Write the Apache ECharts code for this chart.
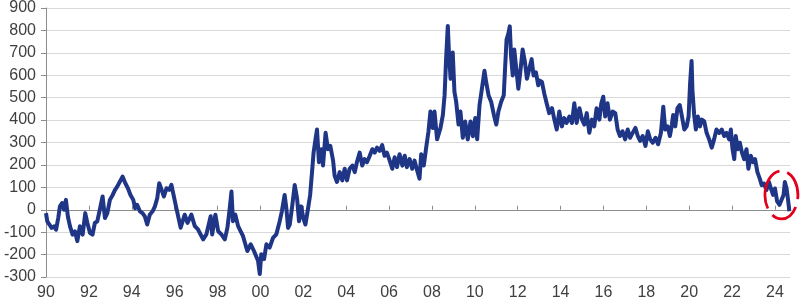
<!DOCTYPE html>
<html>
<head>
<meta charset="utf-8">
<script src="https://cdn.jsdelivr.net/npm/echarts@6/dist/echarts.min.js"></script>
<style>
html,body{margin:0;padding:0;background:#fff;}
#c{width:800px;height:301px;}
</style>
</head>
<body>
<div id="c"></div>
<script>
// Decimal years and spread values
const years = [
1990.0,1990.06,1990.16,1990.26,1990.37,1990.47,1990.57,1990.65,1990.75,1990.84,1990.93,
1991.02,1991.12,1991.24,1991.35,1991.46,1991.58,1991.71,1991.83,1991.93,
1992.05,1992.17,1992.28,1992.39,1992.51,1992.64,1992.75,1992.86,1992.98,
1993.11,1993.22,1993.32,1993.45,1993.57,1993.7,1993.82,1993.94,
1994.07,1994.16,1994.25,1994.38,1994.5,1994.61,1994.72,1994.84,1994.97,
1995.08,1995.19,1995.28,1995.39,1995.5,1995.62,1995.75,1995.85,1995.93,
1996.08,1996.28,1996.47,1996.6,1996.78,1996.94,
1997.09,1997.33,1997.48,1997.68,1997.75,1997.9,
1998.03,1998.18,1998.34,1998.46,1998.57,1998.65,1998.72,1998.83,1998.96,
1999.19,1999.39,1999.55,1999.7,1999.89,1999.97,
2000.04,2000.17,2000.28,2000.43,2000.59,2000.74,2000.9,
2001.0,2001.13,2001.21,2001.29,2001.37,2001.49,2001.6,2001.71,2001.8,2001.9,
2002.0,2002.1,2002.2,2002.32,2002.42,2002.48,2002.57,2002.64,2002.73,2002.84,2002.92,
2003.04,2003.15,2003.26,2003.39,2003.46,2003.57,2003.7,2003.82,2003.93,
2004.04,2004.16,2004.29,2004.4,2004.5,2004.63,2004.75,2004.86,2004.97,
2005.1,2005.22,2005.33,2005.44,2005.56,2005.68,2005.79,2005.9,
2006.03,2006.15,2006.26,2006.37,2006.49,2006.62,2006.73,2006.83,2006.96,
2007.08,2007.19,2007.31,2007.42,2007.5,2007.62,2007.73,2007.84,2007.93,
2008.04,2008.12,2008.24,2008.4,2008.51,2008.59,2008.66,2008.74,2008.8,2008.87,2008.97,
2009.05,2009.13,2009.24,2009.33,2009.44,2009.55,2009.67,2009.8,2009.91,
2010.02,2010.11,2010.22,2010.33,2010.45,2010.53,2010.64,2010.76,2010.89,
2011.0,2011.1,2011.23,2011.35,2011.41,2011.48,2011.57,2011.63,2011.69,2011.77,2011.84,2011.92,
2012.03,2012.12,2012.23,2012.34,2012.43,2012.54,2012.65,2012.74,2012.85,2012.96,
2013.01,2013.13,2013.24,2013.35,2013.47,2013.6,2013.71,2013.82,2013.94,
2014.06,2014.17,2014.28,2014.41,2014.53,2014.64,2014.75,2014.88,
2015.0,2015.11,2015.22,2015.34,2015.46,2015.57,2015.68,2015.81,2015.9,2015.99,
2016.08,2016.19,2016.3,2016.43,2016.55,2016.66,2016.77,2016.89,
2017.01,2017.13,2017.24,2017.36,2017.49,2017.6,2017.71,2017.83,2017.96,
2018.07,2018.18,2018.3,2018.43,2018.55,2018.68,2018.79,2018.88,2018.99,
2019.1,2019.19,2019.25,2019.35,2019.45,2019.56,2019.66,2019.77,2019.88,2019.97,
2020.04,2020.11,2020.15,2020.23,2020.31,2020.4,2020.5,2020.59,2020.7,2020.81,2020.93,
2021.05,2021.16,2021.27,2021.4,2021.52,2021.63,2021.74,2021.86,2021.94,
2022.02,2022.1,2022.17,2022.27,2022.36,2022.46,2022.56,2022.67,2022.76,2022.87,2022.98,
2023.07,2023.18,2023.29,2023.38,2023.49,2023.6,2023.72,2023.81,2023.91,
2024.0,2024.1,2024.21,2024.3,2024.4,2024.46,2024.54,2024.61,2024.67
];
const spread = [
-15,-52,-66,-81,-74,-89,-37,15,30,0,44,
-30,-74,-111,-96,-140,-74,-111,-15,-59,
-103,-111,-59,-52,0,59,-37,-15,44,
66,89,103,126,148,118,96,66,
44,7,22,-7,-15,-30,-66,-22,-7,
15,52,118,89,59,96,89,111,118,
7,-80,-22,-59,-22,-73,
-88,-132,-110,-29,-110,-22,
-96,-110,-132,-81,7,81,-51,-22,-73,
-118,-184,-154,-184,-228,-287,
-198,-220,-154,-169,-125,-110,-51,
-7,66,7,-81,-66,22,110,51,-51,15,
-37,-66,-7,66,183,255,314,358,212,270,197,
343,270,285,219,153,124,168,131,183,
131,183,197,168,212,255,197,226,212,
241,270,255,277,263,288,241,255,
219,183,234,190,248,197,241,190,226,
183,219,175,139,248,197,277,350,438,
365,438,314,365,423,511,672,820,686,584,701,
526,482,380,438,321,394,314,394,328,
409,314,467,540,620,569,511,482,423,
380,438,482,511,628,759,788,818,686,599,715,642,
540,613,715,657,584,628,672,599,613,555,
577,570,518,475,431,453,402,358,438,
372,409,387,416,387,475,387,453,
402,380,431,343,402,372,453,402,475,504,
416,475,402,438,431,358,329,350,
314,358,321,343,365,329,307,329,285,
350,314,299,321,292,343,460,358,372,
329,380,423,372,453,467,416,358,372,416,
562,664,533,423,358,416,372,402,394,343,314,
277,314,358,343,358,329,343,314,358,
270,226,329,270,299,255,226,270,183,241,212,
226,168,139,110,117,88,124,95,66,
95,37,22,29,66,124,95,44,-7
];
const yTicks = [-300,-200,-100,0,100,200,300,400,500,600,700,800,900];
const xStart = 1990, xEnd = 2024.7, xStep = 2;
const ellipseCenter = [2024.3, 66];

const chart = echarts.init(document.getElementById('c'), null, {renderer:'canvas'});
const points = years.map((y,i)=>[y, spread[i]]);
const labelFont = {color:'#404040', fontSize:16, fontFamily:'Liberation Sans, Arial, sans-serif'};

chart.setOption({
  animation:false,
  grid:{left:46, right:10, top:6.5, bottom:21, containLabel:false},
  xAxis:[{
    type:'value', min:xStart, max:xEnd, interval:xStep,
    axisLine:{show:true, onZero:true, lineStyle:{color:'#8c8c8c', width:1}},
    axisTick:{show:true, inside:true, length:4, lineStyle:{color:'#8c8c8c'}},
    axisLabel:{show:false},
    splitLine:{show:false}
  },{
    type:'value', min:xStart, max:xEnd, interval:xStep, position:'bottom',
    axisLine:{show:false, onZero:false},
    axisTick:{show:false},
    axisLabel:Object.assign({margin:8, showMaxLabel:false, showMinLabel:true,
      formatter:v=>{ if (Math.abs(v-Math.round(v))>1e-6 || Math.round(v)%2) return ''; return String(Math.round(v)%100).padStart(2,'0'); }}, labelFont),
    splitLine:{show:false}
  }],
  yAxis:{
    type:'value', min:yTicks[0], max:yTicks[yTicks.length-1], interval:100,
    axisLine:{show:true, lineStyle:{color:'#8c8c8c', width:1}},
    axisTick:{show:true, length:5, lineStyle:{color:'#8c8c8c'}},
    axisLabel:Object.assign({margin:10}, labelFont),
    splitLine:{show:true, lineStyle:{color:'#d9d9d9', width:1}}
  },
  series:[{
    type:'line', xAxisIndex:0, data:points, showSymbol:false, symbol:'none',
    lineStyle:{color:'#1f3586', width:4, join:'round'},
    z:3
  }]
});

const c = chart.convertToPixel({xAxisIndex:0, yAxisIndex:0}, ellipseCenter);
chart.setOption({
  graphic:[{
    type:'ellipse', z:10,
    shape:{cx:c[0], cy:c[1], rx:16.5, ry:24},
    style:{fill:null, stroke:'#e3001b', lineWidth:2.8, lineDash:[30,8]}
  }]
});
</script>
</body>
</html>
